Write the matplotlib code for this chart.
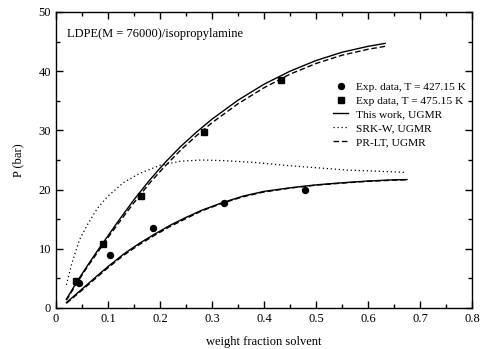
import matplotlib
matplotlib.use("Agg")
import matplotlib.pyplot as plt
from matplotlib.ticker import MultipleLocator, FormatStrFormatter
from matplotlib.lines import Line2D

plt.rcParams['font.family'] = ['Liberation Serif', 'DejaVu Serif']
plt.rcParams['font.size'] = 9

# experimental data
x_exp_427 = [0.044, 0.104, 0.187, 0.324, 0.479]
p_exp_427 = [4.3, 8.9, 13.5, 17.8, 20.0]
x_exp_475 = [0.038, 0.090, 0.163, 0.285, 0.433]
p_exp_475 = [4.55, 10.75, 18.9, 29.8, 38.5]

# model curves, T = 475.15 K
x_hi = [0.02, 0.04, 0.06, 0.08, 0.10, 0.12, 0.15, 0.18, 0.21, 0.24, 0.27,
        0.30, 0.35, 0.40, 0.45, 0.50, 0.55, 0.60, 0.633]
p_hi_this = [1.5, 4.4, 7.1, 9.7, 12.2, 14.7, 18.3, 21.6, 24.6, 27.3, 29.7,
             31.9, 35.1, 37.8, 40.0, 41.8, 43.2, 44.2, 44.7]
p_hi_pr = [1.3, 4.2, 6.9, 9.4, 11.9, 14.3, 17.8, 21.1, 24.0, 26.7, 29.1,
           31.3, 34.5, 37.2, 39.5, 41.3, 42.7, 43.7, 44.2]

# model curves, T = 427.15 K
x_lo = [0.02, 0.05, 0.08, 0.10, 0.13, 0.16, 0.19, 0.22, 0.25, 0.28, 0.32,
        0.36, 0.40, 0.45, 0.50, 0.55, 0.60, 0.65, 0.675]
p_lo_this = [0.9, 3.2, 5.5, 7.0, 9.1, 10.9, 12.5, 14.0, 15.3, 16.5, 17.8,
             18.9, 19.7, 20.3, 20.8, 21.15, 21.45, 21.65, 21.7]
p_lo_pr = [0.8, 3.0, 5.3, 6.8, 8.9, 10.7, 12.3, 13.8, 15.1, 16.4, 17.7,
           18.8, 19.6, 20.25, 20.75, 21.1, 21.4, 21.6, 21.65]

# SRK-W
x_srk = [0.02, 0.03, 0.045, 0.06, 0.08, 0.10, 0.13, 0.16, 0.20, 0.24, 0.28,
         0.32, 0.38, 0.44, 0.50, 0.56, 0.62, 0.673]
p_srk = [3.9, 7.4, 11.5, 14.0, 16.9, 18.9, 21.2, 22.7, 24.1, 24.8, 25.0,
         24.9, 24.6, 24.1, 23.7, 23.3, 23.1, 22.9]

fig = plt.figure(figsize=(4.81, 3.49), dpi=100)
ax = fig.add_axes([56/481, 1-308/349, 416/481, 296/349])

ax.plot(x_hi, p_hi_this, color='black', lw=1.0)
ax.plot(x_hi, p_hi_pr, color='black', lw=1.0, ls=(0, (4, 2)))
ax.plot(x_lo, p_lo_this, color='black', lw=1.0)
ax.plot(x_lo, p_lo_pr, color='black', lw=1.0, ls=(0, (4, 2)))
ax.plot(x_srk, p_srk, color='black', lw=0.9, ls=(0, (1, 2.2)))
ax.plot(x_exp_427, p_exp_427, 'o', color='black', ms=4.3)
ax.plot(x_exp_475, p_exp_475, 's', color='black', ms=3.8)

ax.set_xlim(0, 0.8)
ax.set_ylim(0, 50)
ax.xaxis.set_major_locator(MultipleLocator(0.1))
ax.xaxis.set_minor_locator(MultipleLocator(0.05))
ax.yaxis.set_major_locator(MultipleLocator(10))
ax.yaxis.set_minor_locator(MultipleLocator(5))
ax.xaxis.set_major_formatter(FormatStrFormatter('%g'))
ax.tick_params(which='both', direction='in', top=True, right=True, labelsize=9)
ax.tick_params(which='major', length=5, width=1)
ax.tick_params(which='minor', length=3, width=1)
for s in ax.spines.values():
    s.set_linewidth(1)

ax.set_ylabel('P (bar)', fontsize=9, labelpad=10)
fig.text(264/481, 1/349, 'weight fraction solvent', ha='center', va='bottom', fontsize=9)
ax.text(0.026, 0.926, 'LDPE(M = 76000)/isopropylamine', transform=ax.transAxes,
        ha='left', va='center', fontsize=9)

handles = [
    Line2D([], [], marker='o', ls='none', color='black', ms=4.3),
    Line2D([], [], marker='s', ls='none', color='black', ms=3.8),
    Line2D([], [], color='black', lw=1.0),
    Line2D([], [], color='black', lw=0.9, ls=(0, (1, 2.2))),
    Line2D([], [], color='black', lw=1.0, ls=(0, (4, 2))),
]
labels = ['Exp. data, T = 427.15 K', 'Exp data, T = 475.15 K', 'This work, UGMR',
          'SRK-W, UGMR', 'PR-LT, UGMR']
ax.legend(handles, labels, loc='upper left', frameon=False, fontsize=8.2,
          bbox_to_anchor=((333-56)/416, (308-82)/296), borderaxespad=0, borderpad=0,
          handlelength=1.35, handletextpad=0.65, labelspacing=0.33)

fig.savefig('out.png', dpi=100)
